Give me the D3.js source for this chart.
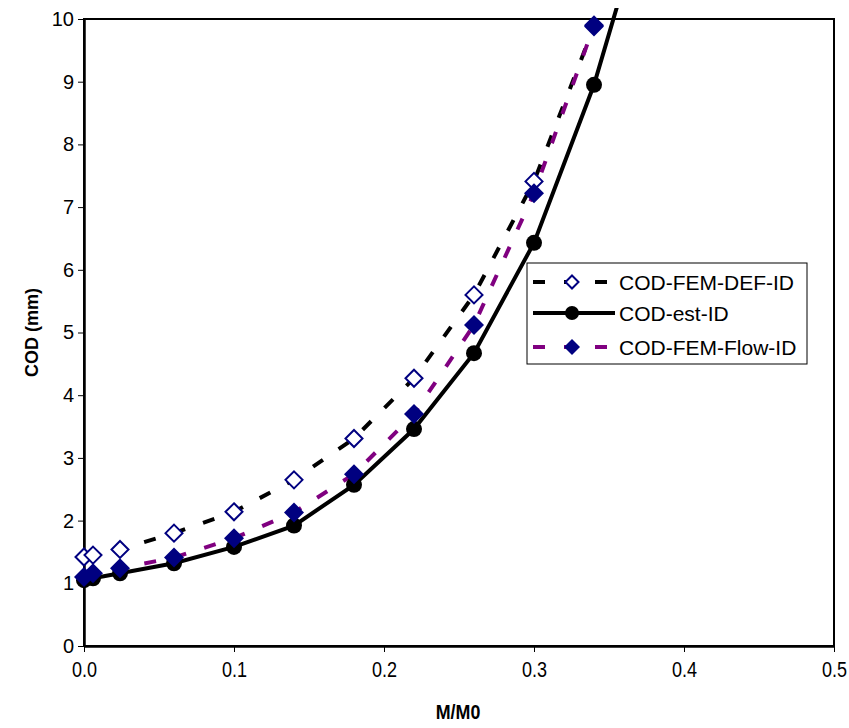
<!DOCTYPE html>
<html>
<head>
<meta charset="utf-8">
<script src="https://cdn.jsdelivr.net/npm/d3@7"></script>
<style>
  body { margin: 0; background: #fff; }
  text { font-family: "Liberation Sans", Arial, sans-serif; }
</style>
</head>
<body>
<div id="chart"></div>
<script>
// ratio M/M0
var ratio = [0, 0.006, 0.024, 0.06, 0.1, 0.14, 0.18, 0.22, 0.26, 0.3, 0.34];
// COD values (mm)
var codFemDef  = [1.42, 1.45, 1.54, 1.80, 2.14, 2.65, 3.31, 4.27, 5.60, 7.41, 9.88];
var codEst     = [1.05, 1.08, 1.16, 1.32, 1.58, 1.92, 2.57, 3.46, 4.67, 6.43, 8.95];
var codFemFlow = [1.10, 1.16, 1.24, 1.41, 1.72, 2.13, 2.74, 3.70, 5.12, 7.22, 9.90];
// est curve keeps going past the top of the axis
var estExtraX = 0.38, estExtraY = 12.2;

var xTicks = [0, 0.1, 0.2, 0.3, 0.4, 0.5];
var yTicks = [0, 1, 2, 3, 4, 5, 6, 7, 8, 9, 10];
var seriesNames = ["COD-FEM-DEF-ID", "COD-est-ID", "COD-FEM-Flow-ID"];

var width = 849, height = 728;
var margin = {top: 19, right: 15, bottom: 82, left: 84};
var w = 750, h = 627;

var svg = d3.select("#chart").append("svg")
    .attr("width", width)
    .attr("height", height);

var x = d3.scaleLinear().domain([0, 0.5]).range([0, w]);
var y = d3.scaleLinear().domain([0, 10]).range([h, 0]);

var g = svg.append("g")
    .attr("transform", "translate(" + margin.left + "," + margin.top + ")");

// clip only the lines: they poke a little above the frame
svg.append("defs").append("clipPath").attr("id", "clip")
  .append("rect").attr("x", -20).attr("y", -11).attr("width", w + 20).attr("height", h + 11);

// frame
g.append("rect")
    .attr("x", 0).attr("y", 0).attr("width", w).attr("height", h)
    .attr("fill", "none").attr("stroke", "#000").attr("stroke-width", 2);

// x axis
var xAxis = g.append("g")
    .attr("transform", "translate(0," + h + ")")
    .call(d3.axisBottom(x).tickValues(xTicks).tickFormat(d3.format(".1f")).tickSize(6).tickSizeOuter(0));
xAxis.select(".domain").attr("stroke-width", 2.5);
xAxis.selectAll("text")
    .attr("font-size", "22px")
    .attr("y", 15)
    .attr("dy", "0.71em")
    .attr("transform", "scale(0.82,1)")
    .attr("fill", "#000");

// y axis
var yAxis = g.append("g")
    .call(d3.axisLeft(y).tickValues(yTicks).tickSize(6).tickSizeOuter(0));
yAxis.select(".domain").attr("stroke-width", 2.5);
yAxis.selectAll("text")
    .attr("font-size", "20px")
    .attr("x", -10)
    .attr("fill", "#000");

// axis titles
svg.append("text")
    .attr("transform", "translate(" + (margin.left + w / 2 - 1) + ",719)scale(0.85,1)")
    .attr("text-anchor", "middle")
    .attr("font-size", "21px")
    .attr("font-weight", "bold")
    .text("M/M0");

svg.append("text")
    .attr("transform", "translate(38," + (margin.top + h / 2) + ")rotate(-90)")
    .attr("text-anchor", "middle")
    .attr("font-size", "18px")
    .attr("font-weight", "bold")
    .text("COD (mm)");

var plot = g.append("g").attr("clip-path", "url(#clip)");

function pts(vals) {
  return ratio.map(function(r, i) { return [r, vals[i]]; });
}

var line = d3.line()
    .x(function(d) { return x(d[0]); })
    .y(function(d) { return y(d[1]); });

var estPts = pts(codEst).concat([[estExtraX, estExtraY]]);

plot.append("path").datum(pts(codFemDef))
    .attr("d", line).attr("fill", "none")
    .attr("stroke", "#000").attr("stroke-width", 4)
    .attr("stroke-dasharray", "12,19");

plot.append("path").datum(estPts)
    .attr("d", line).attr("fill", "none")
    .attr("stroke", "#000").attr("stroke-width", 4);

plot.append("path").datum(pts(codFemFlow))
    .attr("d", line).attr("fill", "none")
    .attr("stroke", "#800080").attr("stroke-width", 4)
    .attr("stroke-dasharray", "12,19");

var diamond = function(r) {
  return "M0," + (-r) + "L" + r + ",0L0," + r + "L" + (-r) + ",0Z";
};

var marks = g.append("g");

marks.selectAll(".def").data(pts(codFemDef)).enter().append("path")
    .attr("class", "def")
    .attr("transform", function(d) { return "translate(" + x(d[0]) + "," + y(d[1]) + ")"; })
    .attr("d", diamond(8.5))
    .attr("fill", "#fff").attr("stroke", "#000080").attr("stroke-width", 2);

marks.selectAll(".est").data(pts(codEst)).enter().append("circle")
    .attr("class", "est")
    .attr("cx", function(d) { return x(d[0]); })
    .attr("cy", function(d) { return y(d[1]); })
    .attr("r", 8)
    .attr("fill", "#000");

marks.selectAll(".flow").data(pts(codFemFlow)).enter().append("path")
    .attr("class", "flow")
    .attr("transform", function(d) { return "translate(" + x(d[0]) + "," + y(d[1]) + ")"; })
    .attr("d", diamond(10))
    .attr("fill", "#000080");

// legend
var lg = svg.append("g").attr("transform", "translate(527,263)");
lg.append("rect")
    .attr("width", 280).attr("height", 101)
    .attr("fill", "#fff").attr("stroke", "#000").attr("stroke-width", 1);

var rows = [19, 50, 84];
var styles = [
  {stroke: "#000", dash: "12,19", marker: "open"},
  {stroke: "#000", dash: null, marker: "circle"},
  {stroke: "#800080", dash: "12,19", marker: "fill"}
];

seriesNames.forEach(function(name, i) {
  var row = lg.append("g").attr("transform", "translate(0," + rows[i] + ")");
  row.append("line")
      .attr("x1", 6).attr("x2", 88)
      .attr("stroke", styles[i].stroke).attr("stroke-width", 4)
      .attr("stroke-dasharray", styles[i].dash);
  if (styles[i].marker === "open") {
    row.append("path").attr("transform", "translate(45,0)").attr("d", diamond(6.5))
        .attr("fill", "#fff").attr("stroke", "#000080").attr("stroke-width", 2);
  } else if (styles[i].marker === "circle") {
    row.append("circle").attr("cx", 45).attr("r", 7).attr("fill", "#000");
  } else {
    row.append("path").attr("transform", "translate(45,0)").attr("d", diamond(8))
        .attr("fill", "#000080");
  }
  row.append("text")
      .attr("x", 92).attr("dy", "0.36em")
      .attr("font-size", "21px")
      .text(name);
});
</script>
</body>
</html>
